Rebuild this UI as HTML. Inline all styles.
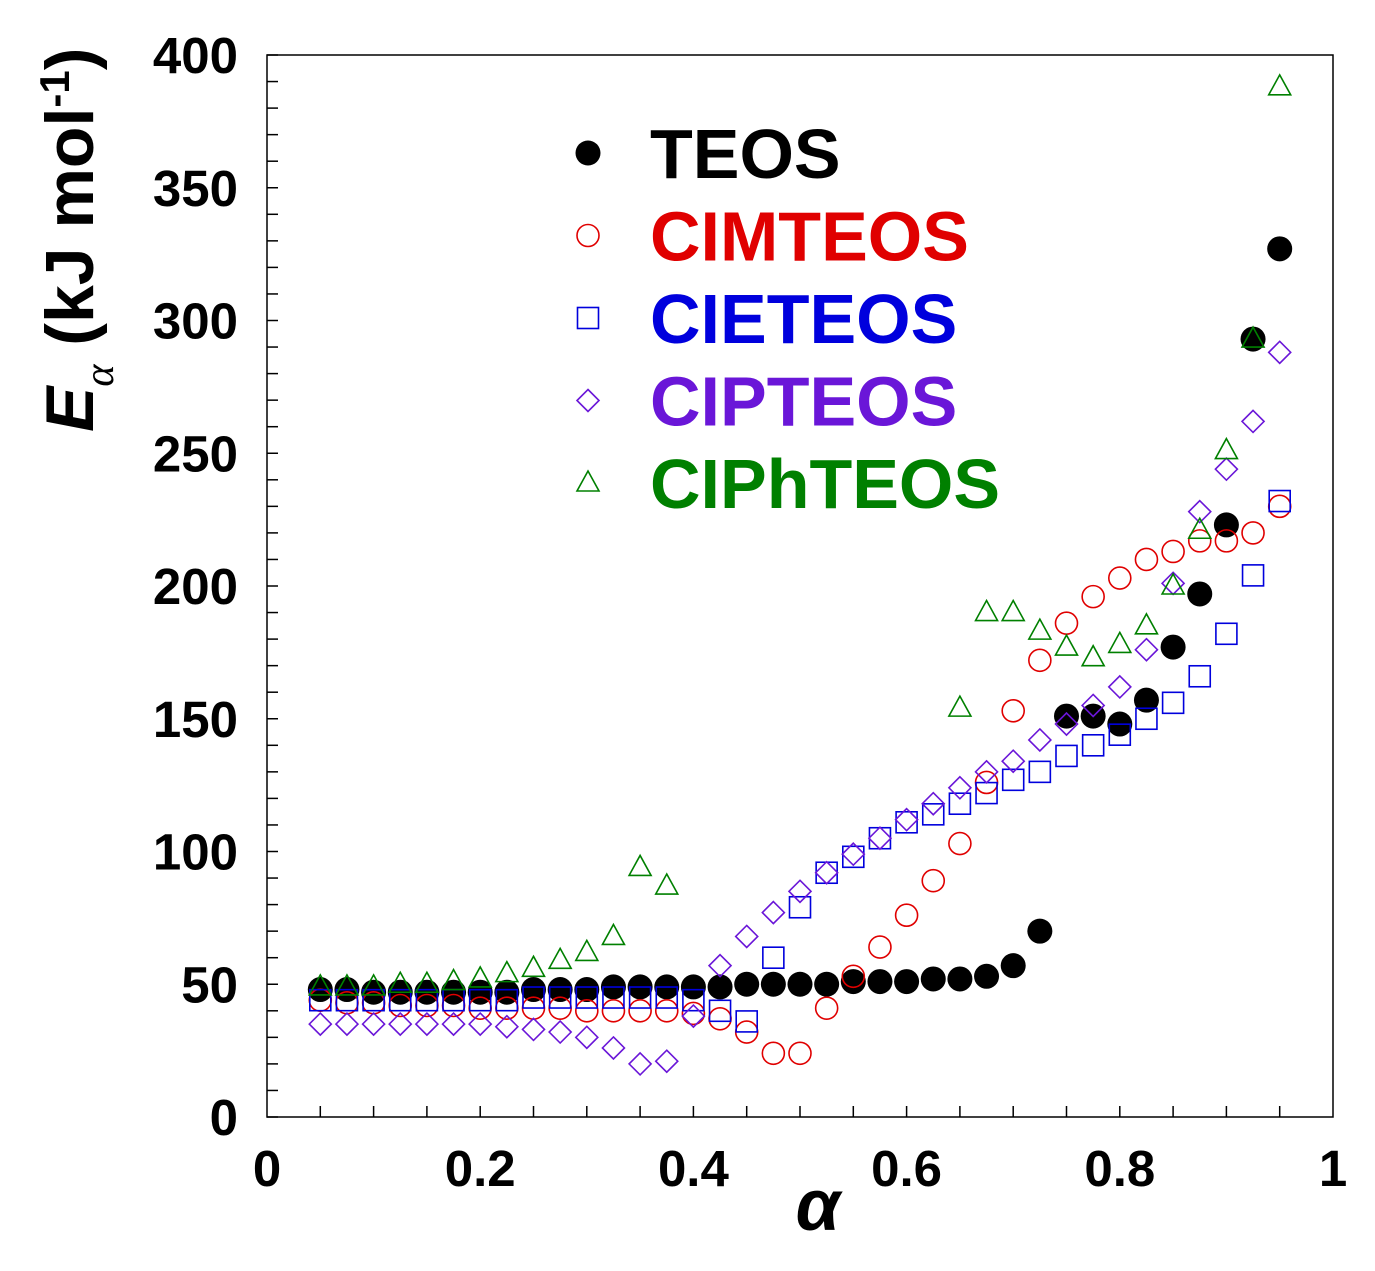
<!DOCTYPE html>
<html><head><meta charset="utf-8"><style>
body{margin:0;background:#fff;}
svg text{font-family:"Liberation Sans",Arial,sans-serif;font-weight:bold;}
</style></head><body>
<svg id="chart" width="1375" height="1266" xmlns="http://www.w3.org/2000/svg"></svg>
<script>
const alphaValues = [0.05,0.075,0.1,0.125,0.15,0.175,0.2,0.225,0.25,0.275,0.3,0.325,0.35,0.375,0.4,0.425,0.45,0.475,0.5,0.525,0.55,0.575,0.6,0.625,0.65,0.675,0.7,0.725,0.75,0.775,0.8,0.825,0.85,0.875,0.9,0.925,0.95];
const teos = [48,48,47,47,47,47,47,47,48,48,48,49,49,49,49,49,50,50,50,50,51,51,51,52,52,53,57,70,151,151,148,157,177,197,223,293,327];
const cimteos = [44,43,43,42,42,42,41,41,41,41,40,40,40,40,39,37,32,24,24,41,53,64,76,89,103,126,153,172,186,196,203,210,213,217,217,220,230];
const cieteos = [44,44,44,44,44,44,44,44,45,45,45,45,45,45,44,40,36,60,79,92,98,105,111,114,118,122,127,130,136,140,144,150,156,166,182,204,232];
const cipteos = [35,35,35,35,35,35,35,34,33,32,30,26,20,21,38,57,68,77,85,92,99,105,112,118,124,130,134,142,148,155,162,176,201,228,244,262,288];
const ciphteos = [49,49,49,50,50,51,52,54,56,59,62,68,94,87,null,null,null,null,null,null,null,null,null,null,154,190,190,183,177,173,178,185,200,221,251,293,388];
const yTickLabels = ["0","50","100","150","200","250","300","350","400"];
const xTickLabels = ["0","0.2","0.4","0.6","0.8","1"];

const NS="http://www.w3.org/2000/svg";
const svg=document.getElementById('chart');
const X0=267,X1=1333,Y0=1117,Y1=55;
const xs=v=>X0+(X1-X0)*v;
const ys=v=>Y0-(Y0-Y1)*v/400;
function el(tag,attrs,parent){const e=document.createElementNS(NS,tag);for(const k in attrs)e.setAttribute(k,attrs[k]);(parent||svg).appendChild(e);return e;}

const frame=el('rect',{x:X0,y:Y1,width:X1-X0,height:Y0-Y1,fill:'none',stroke:'#000','stroke-width':1.5});



for(let v=0;v<=400;v+=10){
  const t=el('line',{x1:X0,x2:X0+11,y1:ys(v),y2:ys(v),stroke:'#000','stroke-width':1.5});
  
  
}
for(let i=1;i<20;i++){
  const v=i*0.05;
  const t=el('line',{x1:xs(v),x2:xs(v),y1:Y0,y2:Y0-11,stroke:'#000','stroke-width':1.5});
  
  
}
yTickLabels.forEach(s=>{
  const t=el('text',{x:238,y:ys(+s)+18,'text-anchor':'end','font-size':51});
  t.textContent=s;
  
  
});
xTickLabels.forEach(s=>{
  const t=el('text',{x:xs(+s),y:1186,'text-anchor':'middle','font-size':51});
  t.textContent=s;
  
  
});
const xt=el('text',{x:818,y:1230,'text-anchor':'middle','font-size':72,'font-style':'italic','font-weight':'normal','font-family':'Liberation Serif, serif'});
xt.textContent='α';



const yt=el('text',{transform:'translate(93,432) rotate(-90)','font-size':68});
yt.innerHTML='<tspan font-style="italic">E</tspan><tspan font-size="42" font-style="italic" dy="20" font-family="Liberation Serif, serif" font-weight="normal">α</tspan><tspan dy="-20"> (kJ mol</tspan><tspan font-size="42" dy="-24">-1</tspan><tspan dy="24">)</tspan>';



function marker(type,cx,cy,color,g){
  let m;
  if(type==='circle-filled') m=el('circle',{cx,cy,r:12.5,fill:color},g);
  else if(type==='circle') m=el('circle',{cx,cy,r:11,fill:'none',stroke:color,'stroke-width':1.6},g);
  else if(type==='square') m=el('rect',{x:cx-10.5,y:cy-10.5,width:21,height:21,fill:'none',stroke:color,'stroke-width':1.6},g);
  else if(type==='diamond') m=el('polygon',{points:`${cx},${cy-11} ${cx+11},${cy} ${cx},${cy+11} ${cx-11},${cy}`,fill:'none',stroke:color,'stroke-width':1.6},g);
  else m=el('polygon',{points:`${cx},${cy-12} ${cx+11},${cy+8} ${cx-11},${cy+8}`,fill:'none',stroke:color,'stroke-width':1.6},g);
  return m;
}
const series=[
  {name:'TEOS',data:teos,type:'circle-filled',color:'#000000'},
  {name:'CIMTEOS',data:cimteos,type:'circle',color:'#e00000'},
  {name:'CIETEOS',data:cieteos,type:'square',color:'#0000dd'},
  {name:'CIPTEOS',data:cipteos,type:'diamond',color:'#6a16d8'},
  {name:'CIPhTEOS',data:ciphteos,type:'triangle',color:'#008000'}
];
series.forEach((s,si)=>{
  const g=el('g',{});
  
  
  s.data.forEach((v,i)=>{
    if(v===null) return;
    const m=marker(s.type,xs(alphaValues[i]),ys(v),s.color,g);
    
    
  });
  const ly=153+si*82.5;
  const lg=el('g',{});
  
  
  marker(s.type,588,ly,s.color,lg);
  const lt=el('text',{x:650,y:ly+25,'font-size':70,fill:s.color},lg);
  lt.textContent=s.name;
});
</script>
</body></html>
